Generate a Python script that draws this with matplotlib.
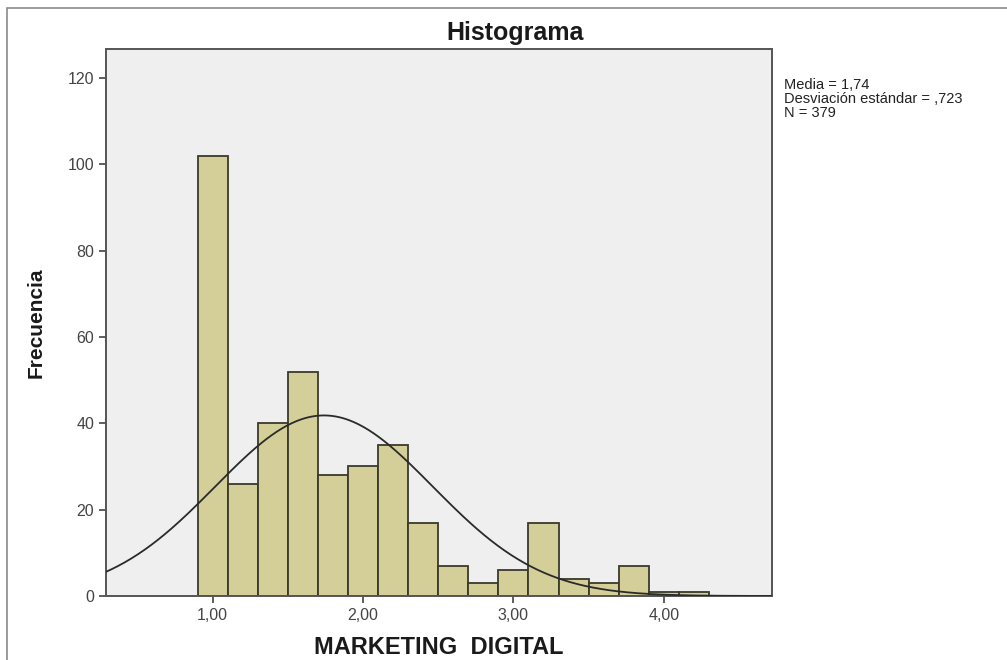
import numpy as np
import matplotlib.pyplot as plt
from matplotlib.patches import Rectangle

plt.rcParams["font.family"] = ["Liberation Sans", "DejaVu Sans"]

# Histogram bins (width 0,2) and their counts
bin_edges = [0.9, 1.1, 1.3, 1.5, 1.7, 1.9, 2.1, 2.3, 2.5, 2.7, 2.9,
             3.1, 3.3, 3.5, 3.7, 3.9, 4.1, 4.3]
counts = [102, 26, 40, 52, 28, 30, 35, 17, 7, 3, 6, 17, 4, 3, 7, 1, 1]

mean = 1.74
std = 0.723
n = 379

x_ticks = [1, 2, 3, 4]
x_tick_labels = ["1,00", "2,00", "3,00", "4,00"]
y_ticks = [0, 20, 40, 60, 80, 100, 120]

W, H = 1007, 660
fig = plt.figure(figsize=(W / 100, H / 100), dpi=100)
fig.patch.set_facecolor("white")

# outer frame
fig.patches.append(Rectangle((7 / W, -0.1), 1.2, 1 - 8 / H + 0.1,
                             transform=fig.transFigure, fill=False,
                             edgecolor="#8a8a8a", linewidth=1.2))

ax_h = 596 - 49
ax = fig.add_axes([106 / W, 1 - 596 / H, (772 - 106) / W, ax_h / H])
ax.set_facecolor("#efefef")

widths = np.diff(bin_edges)
ax.bar(bin_edges[:-1], counts, width=widths, align="edge",
       color="#d4cf98", edgecolor="#3a3a2a", linewidth=1.3, zorder=2)

# normal curve scaled to counts
bw = widths[0]
xs = np.linspace(0.28, 4.72, 400)
ys = n * bw / (std * np.sqrt(2 * np.pi)) * np.exp(-0.5 * ((xs - mean) / std) ** 2)
ax.plot(xs, ys, color="#2a2a2a", linewidth=1.3, zorder=3)

ax.set_xlim(0.29, 4.72)
ax.set_ylim(0, 126.7)
ax.set_xticks(x_ticks)
ax.set_xticklabels(x_tick_labels)
ax.set_yticks(y_ticks)
ax.tick_params(axis="both", labelsize=11.5, colors="#444444", length=5,
               width=1.2, direction="out")
ax.tick_params(axis="x", pad=4)
for s in ax.spines.values():
    s.set_color("#555555")
    s.set_linewidth(1.4)

ax.set_xlabel("MARKETING  DIGITAL", fontsize=17, fontweight="bold",
              color="#1a1a1a", va="center")
ax.xaxis.set_label_coords(0.5, -51 / ax_h)
ax.set_ylabel("Frecuencia", fontsize=15, fontweight="bold",
              color="#1a1a1a", va="center")
ax.yaxis.set_label_coords(-70 / 666, 0.5)

fig.text(515 / W, 1 - 33 / H, "Histograma", fontsize=18, fontweight="bold",
         ha="center", va="center", color="#1a1a1a")

stats = f"Media = 1,74\nDesviación estándar = ,723\nN = {n}"
fig.text(784 / W, 1 - 78 / H, stats, fontsize=10.5, ha="left", va="top",
         linespacing=0.98, color="#222222")

fig.savefig("out.png", dpi=100)
